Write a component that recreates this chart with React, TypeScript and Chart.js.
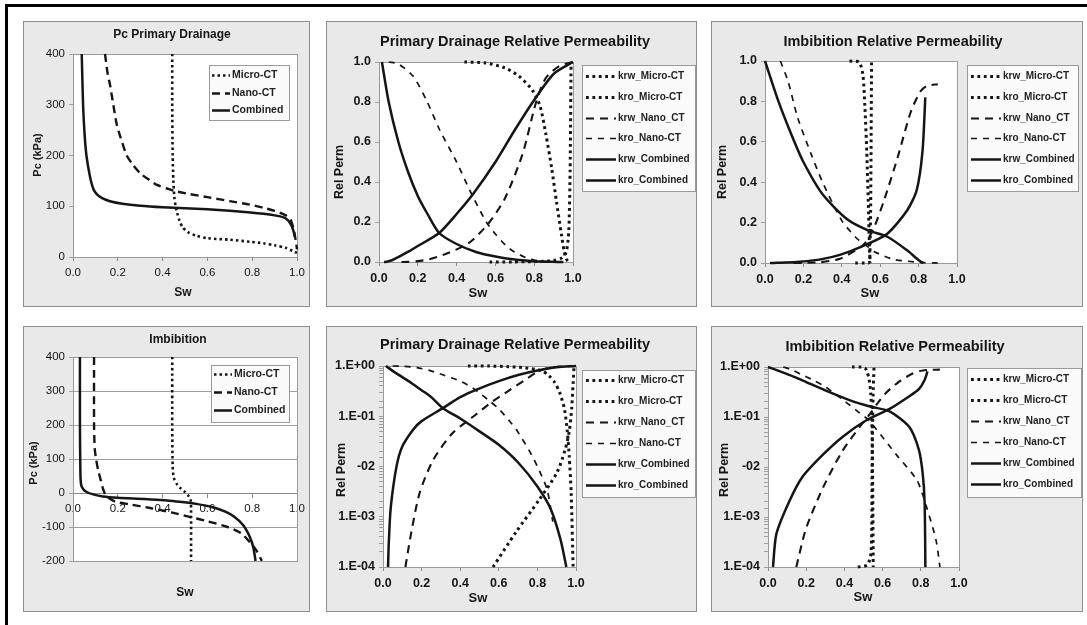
import React, { useEffect, useRef } from 'react';
import { Chart, registerables } from 'chart.js';

Chart.register(...registerables);

// ---------------- Data ----------------
const pcLegend = ['Micro-CT', 'Nano-CT', 'Combined'];
const krLegend = ['krw_Micro-CT', 'kro_Micro-CT', 'krw_Nano_CT', 'kro_Nano-CT', 'krw_Combined', 'kro_Combined'];
const logTickLabels = ['1.E-04', '1.E-03', '-02', '1.E-01', '1.E+00'];

// Pc primary drainage (kPa)
const pcDrainMicroSw = [0.443, 0.443, 0.445, 0.448, 0.452, 0.458, 0.465, 0.475, 0.49, 0.513, 0.55, 0.6, 0.7, 0.79, 0.85, 0.9, 0.95, 0.98, 1.0];
const pcDrainMicro = [400, 300, 200, 150, 120, 100, 87, 72, 58, 49, 42, 37, 34, 30, 27, 23, 18, 12, 8];
const pcDrainNanoSw = [0.143, 0.155, 0.165, 0.18, 0.196, 0.22, 0.24, 0.27, 0.3, 0.34, 0.375, 0.42, 0.455, 0.52, 0.6, 0.7, 0.78, 0.85, 0.9, 0.95, 0.97, 0.985, 0.995, 1.0];
const pcDrainNano = [400, 360, 340, 300, 260, 225, 200, 180, 165, 152, 142, 135, 130, 124, 118, 110, 104, 97, 91, 82, 75, 55, 30, 15];
const pcDrainCombSw = [0.039, 0.045, 0.052, 0.06, 0.075, 0.09, 0.106, 0.13, 0.165, 0.22, 0.3, 0.4, 0.5, 0.6, 0.7, 0.78, 0.85, 0.9, 0.94, 0.96, 0.975, 0.985, 0.99];
const pcDrainComb = [400, 300, 240, 200, 160, 135, 124, 116, 110, 105, 101, 98, 96, 94, 91, 88, 85, 82, 78, 72, 62, 50, 40];

// Pc imbibition (kPa)
const pcImbMicroSw = [0.443, 0.443, 0.445, 0.45, 0.465, 0.48, 0.5, 0.515, 0.525, 0.527, 0.527];
const pcImbMicro = [400, 200, 80, 45, 25, 14, 3, -8, -20, -50, -200];
const pcImbNanoSw = [0.094, 0.094, 0.097, 0.103, 0.112, 0.125, 0.134, 0.145, 0.16, 0.19, 0.25, 0.344, 0.44, 0.52, 0.6, 0.69, 0.75, 0.79, 0.82, 0.843];
const pcImbNano = [400, 200, 130, 100, 68, 35, 12, -5, -15, -26, -33, -44, -57, -70, -83, -100, -118, -145, -170, -200];
const pcImbCombSw = [0.031, 0.031, 0.033, 0.036, 0.045, 0.061, 0.09, 0.134, 0.2, 0.286, 0.35, 0.42, 0.478, 0.55, 0.625, 0.68, 0.72, 0.76, 0.79, 0.805, 0.815];
const pcImbComb = [400, 200, 60, 25, 12, 3, -4, -10, -14, -17, -19, -22, -26, -32, -42, -55, -70, -95, -130, -160, -200];

// Primary drainage relative permeability
const krwMicroDrainSw = [0.57, 0.69, 0.81, 0.9, 0.943, 0.965, 0.978, 0.985, 0.99];
const krwMicroDrain = [0.0001, 0.0005, 0.0022, 0.0074, 0.021, 0.05, 0.15, 0.45, 1.0];
const kroMicroDrainSw = [0.44, 0.55, 0.65, 0.72, 0.79, 0.83, 0.86, 0.89, 0.915, 0.94, 0.955, 0.965, 0.975, 0.985];
const kroMicroDrain = [1.0, 0.995, 0.97, 0.93, 0.86, 0.78, 0.64, 0.47, 0.3, 0.14, 0.05, 0.016, 0.003, 0.0001];
const krwNanoDrainSw = [0.116, 0.147, 0.19, 0.26, 0.36, 0.47, 0.57, 0.65, 0.74, 0.81, 0.86, 0.93, 1.0];
const krwNanoDrain = [0.0001, 0.0005, 0.003, 0.0135, 0.046, 0.1, 0.2, 0.32, 0.54, 0.8, 0.92, 0.98, 1.0];
const kroNanoDrainSw = [0.05, 0.1, 0.175, 0.244, 0.313, 0.4, 0.467, 0.553, 0.6, 0.656, 0.69, 0.76, 0.8, 0.85, 0.88];
const kroNanoDrain = [1.0, 0.99, 0.93, 0.81, 0.66, 0.5, 0.36, 0.2, 0.14, 0.08, 0.055, 0.02, 0.01, 0.0035, 0.0008];
const krwCombDrainSw = [0.026, 0.03, 0.04, 0.07, 0.1, 0.156, 0.2, 0.31, 0.4, 0.485, 0.6, 0.7, 0.8, 0.9, 1.0];
const krwCombDrain = [0.0001, 0.0003, 0.0015, 0.01, 0.025, 0.054, 0.08, 0.145, 0.24, 0.34, 0.5, 0.66, 0.81, 0.94, 1.0];
const kroCombDrainSw = [0.015, 0.05, 0.1, 0.15, 0.2, 0.25, 0.31, 0.4, 0.5, 0.6, 0.7, 0.8, 0.87, 0.92, 0.95];
const kroCombDrain = [1.0, 0.8, 0.6, 0.45, 0.33, 0.24, 0.145, 0.09, 0.05, 0.027, 0.012, 0.004, 0.0014, 0.00035, 0.0001];

// Imbibition relative permeability
const krwMicroImbSw = [0.47, 0.52, 0.54, 0.545, 0.55, 0.555];
const krwMicroImb = [0.0001, 0.00011, 0.0002, 0.01, 0.25, 1.0];
const kroMicroImbSw = [0.44, 0.49, 0.51, 0.52, 0.53, 0.538, 0.544, 0.548, 0.551];
const kroMicroImb = [1.0, 0.995, 0.93, 0.78, 0.55, 0.3, 0.08, 0.005, 0.0001];
const krwNanoImbSw = [0.148, 0.2, 0.29, 0.39, 0.5, 0.534, 0.57, 0.62, 0.69, 0.76, 0.81, 0.845, 0.9];
const krwNanoImb = [0.0001, 0.0006, 0.004, 0.021, 0.08, 0.115, 0.18, 0.31, 0.52, 0.75, 0.85, 0.877, 0.885];
const kroNanoImbSw = [0.08, 0.12, 0.17, 0.24, 0.3, 0.4, 0.48, 0.53, 0.567, 0.67, 0.78, 0.83, 0.88, 0.9];
const kroNanoImb = [1.0, 0.9, 0.72, 0.54, 0.4, 0.21, 0.12, 0.085, 0.057, 0.018, 0.0054, 0.0016, 0.00034, 0.0001];
const krwCombImbSw = [0.026, 0.044, 0.11, 0.18, 0.29, 0.39, 0.515, 0.637, 0.74, 0.79, 0.82, 0.835];
const krwCombImb = [0.0001, 0.00046, 0.002, 0.0063, 0.018, 0.04, 0.086, 0.145, 0.26, 0.36, 0.55, 0.82];
const kroCombImbSw = [0.0, 0.07, 0.14, 0.2, 0.3, 0.43, 0.54, 0.637, 0.74, 0.79, 0.81, 0.82, 0.824];
const kroCombImb = [1.0, 0.8, 0.63, 0.5, 0.34, 0.215, 0.16, 0.13, 0.063, 0.022, 0.0074, 0.002, 0.0001];

// ---------------- Styling ----------------
const SANS = "'Liberation Sans', Arial, sans-serif";
const INK = '#151515';

const zip = (xs: number[], ys: number[]) => xs.map((x, i) => ({ x, y: ys[i] }));

const styleMicro = { borderDash: [2.5, 3], borderWidth: 2.6 };
const styleNano = { borderDash: [8, 5], borderWidth: 2.4 };
const styleComb = { borderDash: [] as number[], borderWidth: 2.5 };
const styleMicroKr = { borderDash: [2.8, 3.6], borderWidth: 3 };
const styleNanoW = { borderDash: [8, 6], borderWidth: 2.1 };
const styleNanoO = { borderDash: [6, 6], borderWidth: 1.7 };

function line(label: string, xs: number[], ys: number[], st: any) {
  return {
    label,
    data: zip(xs, ys),
    borderColor: INK,
    backgroundColor: INK,
    pointRadius: 0,
    fill: false,
    tension: 0.25,
    clip: 4,
    borderCapStyle: 'butt',
    ...st,
  };
}

const decoPlugin = {
  id: 'deco',
  beforeDraw(chart: any) {
    const { ctx, width, height, chartArea: ca } = chart;
    ctx.save();
    ctx.fillStyle = '#e9e9e9';
    ctx.fillRect(0, 0, width, height);
    ctx.strokeStyle = '#8e8e8e';
    ctx.lineWidth = 1;
    ctx.strokeRect(0.5, 0.5, width - 1, height - 1);
    ctx.fillStyle = '#ffffff';
    ctx.fillRect(ca.left, ca.top, ca.right - ca.left, ca.bottom - ca.top);
    ctx.restore();
  },
  beforeDatasetsDraw(chart: any) {
    const { ctx, chartArea: ca } = chart;
    ctx.save();
    ctx.strokeStyle = '#9a9a9a';
    ctx.lineWidth = 1;
    ctx.strokeRect(Math.round(ca.left) + 0.5, Math.round(ca.top) + 0.5, Math.round(ca.right - ca.left), Math.round(ca.bottom - ca.top));
    ctx.restore();
  },
  afterDraw(chart: any, _a: any, o: any) {
    const { ctx } = chart;
    ctx.save();
    ctx.fillStyle = INK;
    ctx.textAlign = 'center';
    ctx.textBaseline = 'middle';
    ctx.font = o.titleFont;
    ctx.fillText(o.title, o.titleX, o.titleY);
    ctx.font = o.xTitleFont;
    ctx.fillText(o.xTitle, o.xTitleX, o.xTitleY);
    ctx.save();
    ctx.translate(o.yTitleX, o.yTitleY);
    ctx.rotate(-Math.PI / 2);
    ctx.font = o.yTitleFont;
    ctx.fillText(o.yTitle, 0, 0);
    ctx.restore();
    // legend
    const lg = o.legend;
    ctx.fillStyle = '#fbfbfb';
    ctx.fillRect(lg.x, lg.y, lg.w, lg.h);
    ctx.strokeStyle = '#9a9a9a';
    ctx.lineWidth = 1;
    ctx.strokeRect(lg.x + 0.5, lg.y + 0.5, lg.w, lg.h);
    chart.data.datasets.forEach((ds: any, i: number) => {
      const y = Math.round(lg.y0 + i * lg.dy) + 0.5;
      ctx.beginPath();
      ctx.setLineDash(ds.borderDash || []);
      ctx.lineWidth = ds.borderWidth;
      ctx.strokeStyle = ds.borderColor;
      ctx.lineCap = 'butt';
      ctx.moveTo(lg.sx0, y);
      ctx.lineTo(lg.sx1, y);
      ctx.stroke();
      ctx.setLineDash([]);
      ctx.fillStyle = '#222';
      ctx.font = lg.font;
      ctx.textAlign = 'left';
      ctx.textBaseline = 'middle';
      ctx.fillText(ds.label, lg.tx, y);
    });
    ctx.restore();
  },
};

const fmt1 = (v: any) => Number(v).toFixed(1);
const fmtInt = (v: any) => String(Math.round(Number(v)));
const fmtLog = (v: any) => {
  const l = Math.log10(Number(v));
  const e = Math.round(l);
  if (Math.abs(l - e) > 1e-6) return '';
  return logTickLabels[e + 4] ?? '';
};

type Spec = {
  key: string;
  left: number; top: number; w: number; h: number;
  plot: { l: number; r: number; t: number; b: number };
  yW: number; xH: number;
  deco: any;
  tickFont: any;
  yType: string; yMin: number; yMax: number; yStep?: number;
  yGrid: boolean; xAtZero: boolean;
  yLabel: (v: any) => string;
  datasets: any[];
};

function pcDeco(title: string, tx: number, ty: number, yx: number, yy: number, sx: number, sy: number, lg: any) {
  return {
    title, titleX: tx, titleY: ty, titleFont: `bold 12px ${SANS}`,
    yTitle: 'Pc (kPa)', yTitleX: yx, yTitleY: yy, yTitleFont: `bold 11px ${SANS}`,
    xTitle: 'Sw', xTitleX: sx, xTitleY: sy, xTitleFont: `bold 12px ${SANS}`,
    legend: { ...lg, font: `bold 10.5px ${SANS}` },
  };
}

function krDeco(title: string, tx: number, ty: number, yx: number, yy: number, sx: number, sy: number, lg: any) {
  return {
    title, titleX: tx, titleY: ty, titleFont: `bold 14.5px ${SANS}`,
    yTitle: 'Rel Perm', yTitleX: yx, yTitleY: yy, yTitleFont: `bold 12.5px ${SANS}`,
    xTitle: 'Sw', xTitleX: sx, xTitleY: sy, xTitleFont: `bold 13px ${SANS}`,
    legend: { ...lg, font: `bold 10px ${SANS}` },
  };
}

const pcDrainSets = () => [
  line(pcLegend[0], pcDrainMicroSw, pcDrainMicro, styleMicro),
  line(pcLegend[1], pcDrainNanoSw, pcDrainNano, styleNano),
  line(pcLegend[2], pcDrainCombSw, pcDrainComb, styleComb),
];
const pcImbSets = () => [
  line(pcLegend[0], pcImbMicroSw, pcImbMicro, styleMicro),
  line(pcLegend[1], pcImbNanoSw, pcImbNano, styleNano),
  line(pcLegend[2], pcImbCombSw, pcImbComb, styleComb),
];
const krDrainSets = () => [
  line(krLegend[0], krwMicroDrainSw, krwMicroDrain, styleMicroKr),
  line(krLegend[1], kroMicroDrainSw, kroMicroDrain, styleMicroKr),
  line(krLegend[2], krwNanoDrainSw, krwNanoDrain, styleNanoW),
  line(krLegend[3], kroNanoDrainSw, kroNanoDrain, styleNanoO),
  line(krLegend[4], krwCombDrainSw, krwCombDrain, styleComb),
  line(krLegend[5], kroCombDrainSw, kroCombDrain, styleComb),
];
const krImbSets = () => [
  line(krLegend[0], krwMicroImbSw, krwMicroImb, styleMicroKr),
  line(krLegend[1], kroMicroImbSw, kroMicroImb, styleMicroKr),
  line(krLegend[2], krwNanoImbSw, krwNanoImb, styleNanoW),
  line(krLegend[3], kroNanoImbSw, kroNanoImb, styleNanoO),
  line(krLegend[4], krwCombImbSw, krwCombImb, styleComb),
  line(krLegend[5], kroCombImbSw, kroCombImb, styleComb),
];

const pcTick = { family: SANS, size: 11.5, weight: 'normal' };
const krTick = { family: SANS, size: 12.5, weight: 'bold' };

const specs: Spec[] = [
  {
    key: 'p1', left: 23, top: 21, w: 287, h: 286,
    plot: { l: 50, r: 274, t: 33, b: 236 }, yW: 40, xH: 30,
    deco: pcDeco('Pc Primary Drainage', 149, 14, 15, 134, 160, 272,
      { x: 186, y: 44, w: 80, h: 55, y0: 54, dy: 17.5, sx0: 189, sx1: 207, tx: 209 }),
    tickFont: pcTick, yType: 'linear', yMin: 0, yMax: 400, yStep: 100,
    yGrid: false, xAtZero: false, yLabel: fmtInt, datasets: pcDrainSets(),
  },
  {
    key: 'p2', left: 326, top: 21, w: 371, h: 286,
    plot: { l: 53, r: 247, t: 41, b: 241 }, yW: 44, xH: 30,
    deco: krDeco('Primary Drainage Relative Permeability', 189, 21, 14, 151, 152, 272,
      { x: 256, y: 44, w: 113, h: 126, y0: 55, dy: 20.8, sx0: 260, sx1: 290, tx: 292 }),
    tickFont: krTick, yType: 'linear', yMin: 0, yMax: 1, yStep: 0.2,
    yGrid: false, xAtZero: false, yLabel: fmt1, datasets: krDrainSets(),
  },
  {
    key: 'p3', left: 711, top: 21, w: 372, h: 286,
    plot: { l: 54, r: 246, t: 40, b: 242 }, yW: 44, xH: 30,
    deco: krDeco('Imbibition Relative Permeability', 182, 21, 12, 151, 159, 272,
      { x: 256, y: 44, w: 111, h: 126, y0: 55, dy: 20.8, sx0: 260, sx1: 290, tx: 292 }),
    tickFont: krTick, yType: 'linear', yMin: 0, yMax: 1, yStep: 0.2,
    yGrid: false, xAtZero: false, yLabel: fmt1, datasets: krImbSets(),
  },
  {
    key: 'p4', left: 23, top: 326, w: 287, h: 286,
    plot: { l: 50, r: 275, t: 31, b: 235 }, yW: 40, xH: 30,
    deco: pcDeco('Imbibition', 155, 14, 11, 137, 162, 267,
      { x: 188, y: 39, w: 78, h: 57, y0: 48, dy: 18, sx0: 191, sx1: 209, tx: 211 }),
    tickFont: pcTick, yType: 'linear', yMin: -200, yMax: 400, yStep: 100,
    yGrid: true, xAtZero: true, yLabel: fmtInt, datasets: pcImbSets(),
  },
  {
    key: 'p5', left: 326, top: 326, w: 371, h: 286,
    plot: { l: 57, r: 250, t: 40, b: 241 }, yW: 50, xH: 30,
    deco: krDeco('Primary Drainage Relative Permeability', 189, 19, 16, 144, 152, 272,
      { x: 256, y: 44, w: 113, h: 127, y0: 54, dy: 21, sx0: 260, sx1: 290, tx: 292 }),
    tickFont: krTick, yType: 'logarithmic', yMin: 0.0001, yMax: 1,
    yGrid: false, xAtZero: false, yLabel: fmtLog, datasets: krDrainSets(),
  },
  {
    key: 'p6', left: 711, top: 326, w: 372, h: 286,
    plot: { l: 57, r: 248, t: 41, b: 241 }, yW: 50, xH: 30,
    deco: krDeco('Imbibition Relative Permeability', 184, 21, 14, 144, 152, 271,
      { x: 256, y: 42, w: 114, h: 129, y0: 53, dy: 21, sx0: 260, sx1: 290, tx: 292 }),
    tickFont: krTick, yType: 'logarithmic', yMin: 0.0001, yMax: 1,
    yGrid: false, xAtZero: false, yLabel: fmtLog, datasets: krImbSets(),
  },
];

function buildConfig(s: Spec): any {
  const padBottom = s.xAtZero ? s.h - s.plot.b : s.h - s.plot.b - s.xH;
  return {
    type: 'line',
    data: { datasets: s.datasets },
    plugins: [decoPlugin],
    options: {
      responsive: false,
      animation: false,
      events: [],
      layout: {
        padding: { left: s.plot.l - s.yW, top: s.plot.t, right: s.w - s.plot.r, bottom: padBottom },
      },
      plugins: {
        legend: { display: false },
        tooltip: { enabled: false },
        title: { display: false },
        deco: s.deco,
      },
      scales: {
        x: {
          type: 'linear',
          min: 0,
          max: 1,
          position: s.xAtZero ? { y: 0 } : 'bottom',
          afterFit: (sc: any) => { sc.height = s.xH; },
          ticks: {
            stepSize: 0.2,
            autoSkip: false,
            maxRotation: 0,
            padding: 5,
            color: INK,
            font: s.tickFont,
            callback: fmt1,
          },
          grid: { display: true, drawOnChartArea: false, tickLength: 4, color: '#8a8a8a' },
          border: { display: true, color: '#8a8a8a' },
        },
        y: {
          type: s.yType,
          min: s.yMin,
          max: s.yMax,
          afterFit: (sc: any) => { sc.width = s.yW; },
          ticks: {
            ...(s.yStep ? { stepSize: s.yStep } : {}),
            autoSkip: false,
            padding: 4,
            color: INK,
            font: s.tickFont,
            callback: s.yLabel,
          },
          grid: { display: true, drawOnChartArea: s.yGrid, tickLength: 4, color: '#a0a0a0' },
          border: { display: true, color: '#8a8a8a' },
        },
      },
    },
  };
}

function Panel({ spec }: { spec: Spec }) {
  const ref = useRef<HTMLCanvasElement | null>(null);
  useEffect(() => {
    if (!ref.current) return;
    const chart = new Chart(ref.current, buildConfig(spec));
    return () => chart.destroy();
  }, [spec]);
  return (
    <canvas
      ref={ref}
      width={spec.w}
      height={spec.h}
      style={{ position: 'absolute', left: spec.left, top: spec.top, width: spec.w, height: spec.h }}
    />
  );
}

export default function App() {
  return (
    <div
      style={{
        position: 'fixed', left: 0, top: 0, width: 1087, height: 625,
        background: '#ffffff', overflow: 'hidden',
      }}
    >
      <div style={{ position: 'absolute', left: 5, top: 4, width: 1082, height: 3, background: '#000' }} />
      <div style={{ position: 'absolute', left: 5, top: 4, width: 3, height: 621, background: '#000' }} />
      {specs.map((s) => (
        <Panel key={s.key} spec={s} />
      ))}
    </div>
  );
}
